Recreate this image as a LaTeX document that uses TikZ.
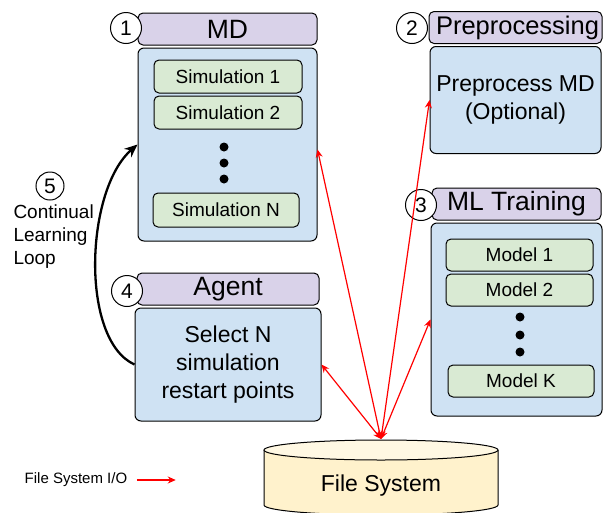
\documentclass[tikz,border=0pt]{standalone}
\usepackage{fontspec}
\setmainfont{Liberation Sans}
\usetikzlibrary{positioning,arrows.meta}
\definecolor{headpurple}{HTML}{D9D2E9}
\definecolor{bodyblue}{HTML}{CFE2F3}
\definecolor{taskgreen}{HTML}{D9EAD3}
\definecolor{fsyellow}{HTML}{FFF2CC}

\begin{document}
\begin{tikzpicture}[x=1pt,y=-1pt,line width=1pt,
  head/.style={draw,fill=headpurple,rounded corners=5pt,inner sep=0pt,
    minimum height=32pt,font=\fontsize{26.5}{30}\selectfont},
  body/.style={draw,fill=bodyblue,rounded corners=6pt,inner sep=0pt,
    align=center,font=\fontsize{23}{28}\selectfont},
  task/.style={draw,fill=taskgreen,rounded corners=5pt,inner sep=0pt,
    minimum height=33pt,font=\fontsize{19}{22}\selectfont},
  stepnum/.style={draw,fill=white,circle,inner sep=0pt,minimum size=31pt,
    font=\fontsize{21}{24}\selectfont},
  io/.style={red,line width=1.2pt,>={Stealth[length=8pt,width=7pt]},<->}]

  \useasboundingbox (0,0) rectangle (603,512);
  \clip (0,0) rectangle (603,512);

  % MD block
  \node[head,minimum width=179pt] (mdhead) at (227.5,29) {MD};
  \node[body,minimum width=179pt,minimum height=193pt,below=2pt of mdhead] (mdbody) {};
  \node[task,minimum width=148pt] (sim1) at (228,76.5) {Simulation 1};
  \node[task,minimum width=148pt,below=2pt of sim1] (sim2) {Simulation 2};
  \node[task,minimum width=146pt,minimum height=34pt] (simN) at (226,210) {Simulation N};
  \foreach \y in {147,163,179}
    \fill (224,\y) circle[radius=4.5];
  \node[stepnum] (c1) at (126,28) {1};

  % Preprocessing block
  \node[head,minimum width=173pt,font=\fontsize{25.5}{30}\selectfont] (pphead) at (515.5,27.5) {\makebox[0pt]{\hspace{4pt}Preprocessing}};
  \node[body,minimum width=171pt,minimum height=107pt,below=2pt of pphead] (ppbody) {Preprocess MD\\(Optional)};
  \node[stepnum] (c2) at (412,28) {2};

  % ML training block
  \node[head,minimum width=169pt] (mlhead) at (516.5,204) {ML Training};
  \node[body,minimum width=171pt,minimum height=193pt,below=2pt of mlhead] (mlbody) {};
  \node[task,minimum width=147pt,minimum height=32pt] (model1) at (519.5,255) {Model 1};
  \node[task,minimum width=147pt,minimum height=32pt,below=2pt of model1] (model2) {Model 2};
  \node[task,minimum width=146pt,minimum height=32pt] (modelK) at (521,381) {Model K};
  \foreach \y in {317,335,352}
    \fill (520,\y) circle[radius=4.5];
  \node[stepnum] (c3) at (421,205) {3};

  % Agent block
  \node[head,minimum width=182pt] (aghead) at (228,289) {Agent};
  \node[body,minimum width=186pt,minimum height=113pt,below=2pt of aghead] (agbody) {Select N\\simulation\\restart points};
  \node[stepnum] (c4) at (127,291) {4};

  % continual learning loop
  \node[stepnum,minimum size=28pt] (c5) at (50,186) {5};
  \node[inner sep=0pt,anchor=north west,align=left,
    font=\fontsize{19}{23}\selectfont] (looptext) at (13,204) {Continual\\Learning\\Loop};
  \draw[line width=2.3pt,-{Stealth[length=13pt,width=11pt]}]
    (agbody.west) .. controls (80,340) and (85,190) .. (mdbody.west);

  % file system
  \draw[fill=fsyellow] (264,450) -- (264,505)
    arc[start angle=180,end angle=0,x radius=117,y radius=10] -- (498,450);
  \draw[fill=fsyellow!55!white] (381,450) ellipse[x radius=117,y radius=10];
  \node[font=\fontsize{23}{28}\selectfont] (fs) at (381,486) {File System};
  \coordinate (fsio) at (381,439);

  % file system I/O
  \draw[io] (fsio) -- ([yshift=-5pt]mdbody.east);
  \draw[io] (fsio) -- (ppbody.west);
  \draw[io] (fsio) -- (mlbody.west);
  \draw[io] (fsio) -- (agbody.east);

  % legend
  \node[inner sep=0pt,font=\fontsize{15}{18}\selectfont] (legend) at (76,480) {File System I/O};
  \coordinate (legendtip) at ([xshift=48pt]legend.east);
  \draw[red,line width=1.2pt,-{Stealth[length=8pt,width=7pt]}] ([xshift=9pt]legend.east) -- (legendtip);

\end{tikzpicture}
\end{document}
